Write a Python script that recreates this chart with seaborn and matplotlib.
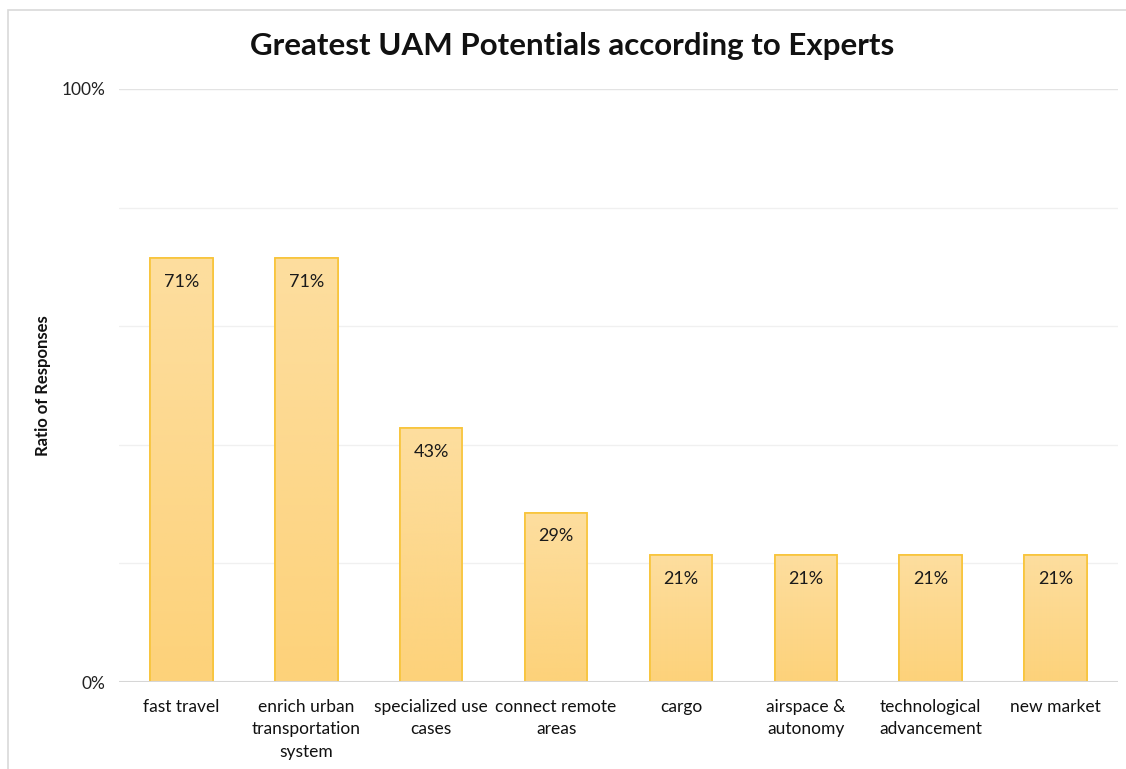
import matplotlib
matplotlib.use("Agg")
import matplotlib.pyplot as plt
import numpy as np
import pandas as pd
import seaborn as sns
from matplotlib.patches import Rectangle
from matplotlib.colors import LinearSegmentedColormap

categories = [
    "fast travel",
    "enrich urban\ntransportation\nsystem",
    "specialized use\ncases",
    "connect remote\nareas",
    "cargo",
    "airspace &\nautonomy",
    "technological\nadvancement",
    "new market",
]
# share of the 14 experts naming each potential
ratios = [10 / 14, 10 / 14, 6 / 14, 4 / 14, 3 / 14, 3 / 14, 3 / 14, 3 / 14]
value_labels = ["71%", "71%", "43%", "29%", "21%", "21%", "21%", "21%"]
y_ticks = [0.0, 1.0]
y_tick_labels = ["0%", "100%"]

df = pd.DataFrame({"category": categories, "ratio": ratios})

sns.set_theme(style="white")
plt.rcParams["font.family"] = ["Lato", "DejaVu Sans"]

fig = plt.figure(figsize=(11.26, 7.69), dpi=100)
ax = fig.add_axes([0.1057, 0.1131, 0.8872, 0.7712])

sns.barplot(data=df, x="category", y="ratio", ax=ax, width=0.5,
            color="#FDD68C", edgecolor="#F8C43A", linewidth=1.2, saturation=1)

# vertical gradient fill clipped to each bar
grad_cmap = LinearSegmentedColormap.from_list("bar", ["#FDD27A", "#FDDE9F"])
gradient = np.linspace(0, 1, 256).reshape(-1, 1)
for patch in ax.patches:
    x0, y0 = patch.get_x(), patch.get_y()
    w, h = patch.get_width(), patch.get_height()
    im = ax.imshow(gradient, cmap=grad_cmap, origin="lower", aspect="auto",
                   extent=[x0, x0 + w, y0, y0 + h], zorder=patch.get_zorder() + 0.1)
    im.set_clip_path(patch)
    edge = Rectangle((x0, y0), w, h, fill=False, edgecolor="#F8C43A",
                     linewidth=1.2, zorder=patch.get_zorder() + 0.2)
    ax.add_patch(edge)

for i, (v, lab) in enumerate(zip(ratios, value_labels)):
    ax.text(i, v - 0.04, lab, ha="center", va="center", fontsize=13,
            color="#1a1a1a", zorder=5)

ax.set_xlim(-0.5, len(categories) - 0.5)
ax.set_ylim(0, 1.0)
ax.set_yticks(y_ticks)
ax.set_yticklabels(y_tick_labels, fontsize=12.5, color="#222222")
for g in [0.2, 0.4, 0.6, 0.8, 1.0]:
    ax.axhline(g, color="#E3E3E3" if g == 1.0 else "#F0F0F0", linewidth=1.0, zorder=0)
ax.axhline(0, color="#D6D6D6", linewidth=1.5, zorder=6)

ax.tick_params(axis="x", labelsize=12.5, colors="#111111", length=0, pad=12)
for lbl in ax.get_xticklabels():
    lbl.set_linespacing(1.5)
ax.tick_params(axis="y", length=0, pad=10)
for s in ax.spines.values():
    s.set_visible(False)

ax.set_xlabel("")
ax.set_ylabel("Ratio of Responses", fontsize=12, fontweight="bold",
              color="#111111")
ax.yaxis.set_label_coords(-0.068, 0.5)

fig.text(0.508, 0.94, "Greatest UAM Potentials according to Experts",
         ha="center", va="center", fontsize=22.5, fontweight="bold", color="#111111")

# chart frame
frame = Rectangle((8 / 1126, -0.02), 1.1, 1.007, transform=fig.transFigure,
                  fill=False, edgecolor="#D9D9D9", linewidth=1.2)
fig.patches.append(frame)

fig.savefig("out.png", dpi=100, facecolor="white")
